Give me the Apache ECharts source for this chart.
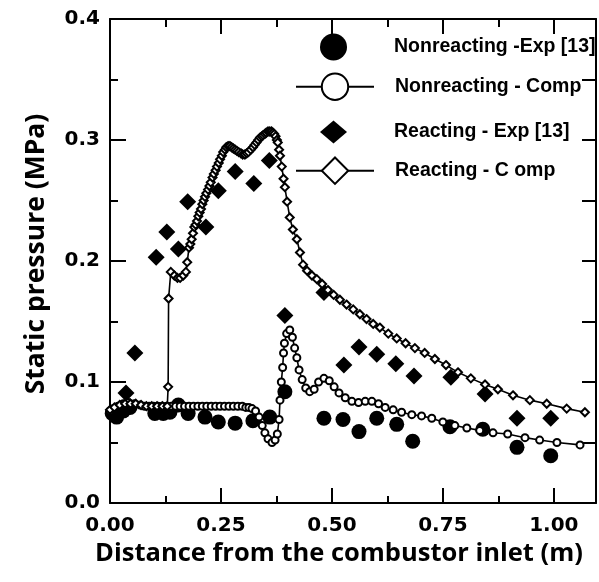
<!DOCTYPE html>
<html>
<head>
<meta charset="utf-8">
<script src="https://cdn.jsdelivr.net/npm/echarts@6/dist/echarts.min.js"></script>
<style>
  html, body { margin: 0; padding: 0; background: #fff; }
  #chart { width: 599px; height: 582px; }
</style>
</head>
<body>
<div id="chart"></div>
<script>
// Static pressure along the combustor, [distance (m), pressure (MPa)]
const nonreactingExp = [
  [0.005, 0.074], [0.015, 0.071], [0.030, 0.076], [0.045, 0.079],
  [0.101, 0.074], [0.120, 0.074], [0.135, 0.075], [0.154, 0.081],
  [0.176, 0.074], [0.214, 0.071], [0.244, 0.067], [0.282, 0.066],
  [0.322, 0.068], [0.360, 0.071], [0.394, 0.092], [0.482, 0.070],
  [0.525, 0.069], [0.561, 0.059], [0.601, 0.070], [0.646, 0.065],
  [0.682, 0.051], [0.766, 0.063], [0.840, 0.061], [0.917, 0.046],
  [0.993, 0.039]
];

const nonreactingComp = [
  [0.000, 0.076], [0.008, 0.078], [0.018, 0.080], [0.030, 0.082],
  [0.042, 0.083], [0.055, 0.082], [0.068, 0.081], [0.078, 0.080],
  [0.088, 0.080], [0.098, 0.080], [0.108, 0.080], [0.118, 0.080],
  [0.128, 0.080], [0.138, 0.080], [0.148, 0.080], [0.158, 0.080],
  [0.168, 0.080], [0.178, 0.080], [0.188, 0.080], [0.198, 0.080],
  [0.208, 0.080], [0.218, 0.080], [0.228, 0.080], [0.238, 0.080],
  [0.248, 0.080], [0.258, 0.080], [0.268, 0.080], [0.278, 0.080],
  [0.288, 0.080], [0.298, 0.080], [0.306, 0.079], [0.313, 0.079],
  [0.320, 0.078], [0.328, 0.076], [0.336, 0.071], [0.343, 0.064],
  [0.349, 0.058], [0.356, 0.053], [0.365, 0.050], [0.372, 0.052],
  [0.377, 0.057], [0.381, 0.069], [0.383, 0.085], [0.386, 0.100],
  [0.389, 0.112], [0.391, 0.124], [0.393, 0.132], [0.398, 0.140],
  [0.405, 0.143], [0.411, 0.137], [0.416, 0.128], [0.421, 0.120],
  [0.426, 0.110], [0.433, 0.102], [0.441, 0.095], [0.450, 0.092],
  [0.460, 0.094], [0.470, 0.100], [0.482, 0.103], [0.494, 0.101],
  [0.505, 0.096], [0.516, 0.091], [0.530, 0.087], [0.545, 0.084],
  [0.560, 0.083], [0.575, 0.084], [0.590, 0.084], [0.605, 0.082],
  [0.620, 0.079], [0.638, 0.077], [0.657, 0.075], [0.680, 0.073],
  [0.702, 0.072], [0.725, 0.070], [0.750, 0.067], [0.777, 0.064],
  [0.804, 0.062], [0.833, 0.060], [0.863, 0.058], [0.896, 0.057],
  [0.935, 0.054], [0.968, 0.052], [1.007, 0.050], [1.059, 0.048]
];

const reactingExp = [
  [0.036, 0.091], [0.056, 0.124], [0.104, 0.203], [0.128, 0.224],
  [0.154, 0.210], [0.175, 0.249], [0.216, 0.228], [0.244, 0.258],
  [0.282, 0.274], [0.324, 0.264], [0.359, 0.283], [0.394, 0.155],
  [0.482, 0.174], [0.527, 0.114], [0.561, 0.129], [0.601, 0.123],
  [0.644, 0.115], [0.685, 0.105], [0.768, 0.104], [0.845, 0.090],
  [0.917, 0.070], [0.993, 0.070]
];

const reactingComp = [
  [0.000, 0.077], [0.010, 0.079], [0.022, 0.081], [0.034, 0.082],
  [0.046, 0.082], [0.058, 0.082], [0.070, 0.081], [0.082, 0.080],
  [0.094, 0.080], [0.106, 0.080], [0.118, 0.080], [0.129, 0.080],
  [0.131, 0.096], [0.132, 0.169], [0.137, 0.191], [0.145, 0.188],
  [0.152, 0.186], [0.158, 0.186], [0.165, 0.188], [0.171, 0.191],
  [0.174, 0.199], [0.178, 0.211], [0.181, 0.214], [0.184, 0.218],
  [0.187, 0.223], [0.190, 0.228], [0.193, 0.230], [0.196, 0.233],
  [0.199, 0.237], [0.202, 0.240], [0.205, 0.243], [0.208, 0.247],
  [0.211, 0.250], [0.214, 0.253], [0.217, 0.256], [0.221, 0.259],
  [0.224, 0.262], [0.227, 0.265], [0.231, 0.269], [0.234, 0.272],
  [0.238, 0.275], [0.241, 0.278], [0.245, 0.281], [0.248, 0.284],
  [0.252, 0.287], [0.255, 0.290], [0.259, 0.292], [0.262, 0.294],
  [0.266, 0.295], [0.270, 0.295], [0.274, 0.294], [0.278, 0.293],
  [0.282, 0.292], [0.286, 0.291], [0.290, 0.290], [0.295, 0.289],
  [0.299, 0.288], [0.304, 0.288], [0.308, 0.289], [0.312, 0.290],
  [0.317, 0.292], [0.322, 0.294], [0.326, 0.296], [0.330, 0.298],
  [0.334, 0.300], [0.338, 0.302], [0.342, 0.303], [0.345, 0.304],
  [0.349, 0.305], [0.352, 0.306], [0.356, 0.307], [0.360, 0.307],
  [0.364, 0.307], [0.367, 0.306], [0.370, 0.305], [0.373, 0.303],
  [0.376, 0.300], [0.378, 0.298], [0.381, 0.292], [0.383, 0.287],
  [0.387, 0.278], [0.391, 0.268], [0.394, 0.261], [0.399, 0.249],
  [0.405, 0.236], [0.412, 0.226], [0.421, 0.218], [0.428, 0.207],
  [0.435, 0.197], [0.444, 0.192], [0.455, 0.188], [0.466, 0.185],
  [0.478, 0.181], [0.491, 0.176], [0.504, 0.172], [0.518, 0.168],
  [0.533, 0.164], [0.548, 0.160], [0.563, 0.156], [0.578, 0.152],
  [0.593, 0.148], [0.608, 0.145], [0.627, 0.140], [0.646, 0.136],
  [0.666, 0.132], [0.687, 0.128], [0.709, 0.124], [0.732, 0.119],
  [0.757, 0.114], [0.784, 0.108], [0.813, 0.103], [0.845, 0.098],
  [0.874, 0.094], [0.908, 0.089], [0.946, 0.085], [0.984, 0.082],
  [1.029, 0.078], [1.070, 0.075]
];

// Axis ticks and labels
const xLabels = [0, 0.25, 0.5, 0.75, 1.0];
const xMajorTicks = [0.25, 0.5, 0.75, 1.0];
const xMinorTicks = [0.125, 0.375, 0.625, 0.875];
const xMax = 1.095;
const yMax = 0.4;

const seriesNames = [
  'Nonreacting -Exp [13]',
  'Nonreacting - Comp',
  'Reacting - Exp [13]',
  'Reacting - C omp'
];

const black = '#000';
const tickFont = { fontFamily: 'DejaVu Sans', fontWeight: 'bold', fontSize: 20, color: black };
const titleFont = { fontFamily: 'Open Sans', fontWeight: 700, fontSize: 25.5, color: black };

function xAxisDef(position, ticks, len, withLine, withLabels) {
  return {
    type: 'value', position: position, min: 0, max: xMax,
    axisLine: { show: withLine, onZero: false, lineStyle: { color: black, width: 2 } },
    axisTick: { show: true, inside: true, length: len, customValues: ticks,
                lineStyle: { color: black, width: 2 } },
    axisLabel: withLabels
      ? Object.assign({ show: true, customValues: xLabels, margin: 13,
          formatter: v => v.toFixed(2) }, tickFont)
      : { show: false },
    splitLine: { show: false }
  };
}

// One legend block per row; all texts share the same left edge
const legendTextX = 389;
function legendDef(name, rowCenter, left, w, h) {
  return {
    data: [name], left: left, top: rowCenter - h / 2,
    itemWidth: w, itemHeight: h, selectedMode: false,
    formatter: '{g| }{name}',
    textStyle: {
      fontFamily: 'Liberation Sans', fontWeight: 'bold', fontSize: 19.5, color: black,
      rich: { g: { width: legendTextX - (left + w + 5) } }
    }
  };
}

const chart = echarts.init(document.getElementById('chart'), null, { renderer: 'canvas' });

chart.setOption({
  animation: false,
  backgroundColor: '#fff',
  grid: { left: 110, right: 3, top: 19, bottom: 79, containLabel: false },
  legend: [
    legendDef(seriesNames[0], 42, 315, 27, 27),
    legendDef(seriesNames[1], 84, 290, 78, 33),
    legendDef(seriesNames[2], 127, 315, 27, 23),
    legendDef(seriesNames[3], 168, 290, 78, 33)
  ],
  xAxis: [
    Object.assign(xAxisDef('bottom', xMajorTicks, 15, true, true), {
      name: 'Distance from the combustor inlet (m)',
      nameLocation: 'middle', nameGap: 38,
      nameTextStyle: Object.assign({ padding: [0, 28, 0, 0] }, titleFont)
    }),
    xAxisDef('bottom', xMinorTicks, 7, false, false),
    xAxisDef('top', xMajorTicks, 15, true, false),
    xAxisDef('top', xMinorTicks, 8, false, false)
  ],
  yAxis: [
    {
      type: 'value', position: 'left', min: 0, max: yMax, interval: 0.1,
      axisLine: { show: true, onZero: false, lineStyle: { color: black, width: 2 } },
      axisTick: { show: true, inside: true, length: 16, lineStyle: { color: black, width: 2 } },
      minorTick: { show: true, splitNumber: 2, length: 8, lineStyle: { color: black, width: 2 } },
      axisLabel: Object.assign({ margin: 10, formatter: v => v.toFixed(1) }, tickFont),
      splitLine: { show: false },
      name: 'Static pressure (MPa)',
      nameLocation: 'middle', nameGap: 60,
      nameTextStyle: Object.assign({ padding: [0, 0, 0, 14] }, titleFont, { fontSize: 26.5 })
    },
    {
      type: 'value', position: 'right', min: 0, max: yMax, interval: 0.05,
      axisLine: { show: true, onZero: false, lineStyle: { color: black, width: 2 } },
      axisTick: { show: true, inside: true, length: 14, lineStyle: { color: black, width: 2 } },
      axisLabel: { show: false },
      splitLine: { show: false }
    }
  ],
  series: [
    {
      name: seriesNames[0], type: 'scatter', data: nonreactingExp,
      symbol: 'circle', symbolSize: 15,
      itemStyle: { color: black, opacity: 1 }
    },
    {
      name: seriesNames[2], type: 'scatter', data: reactingExp,
      symbol: 'diamond', symbolSize: 17,
      itemStyle: { color: black, opacity: 1 }
    },
    {
      name: seriesNames[1], type: 'line', data: nonreactingComp,
      symbol: 'emptyCircle', symbolSize: 7, showAllSymbol: true,
      lineStyle: { color: black, width: 1.6 },
      itemStyle: { color: black, borderColor: black, borderWidth: 1.3 }
    },
    {
      name: seriesNames[3], type: 'line', data: reactingComp,
      symbol: 'emptyDiamond', symbolSize: 8, showAllSymbol: true,
      lineStyle: { color: black, width: 1.6 },
      itemStyle: { color: black, borderColor: black, borderWidth: 1.3 }
    }
  ]
});
</script>
</body>
</html>
